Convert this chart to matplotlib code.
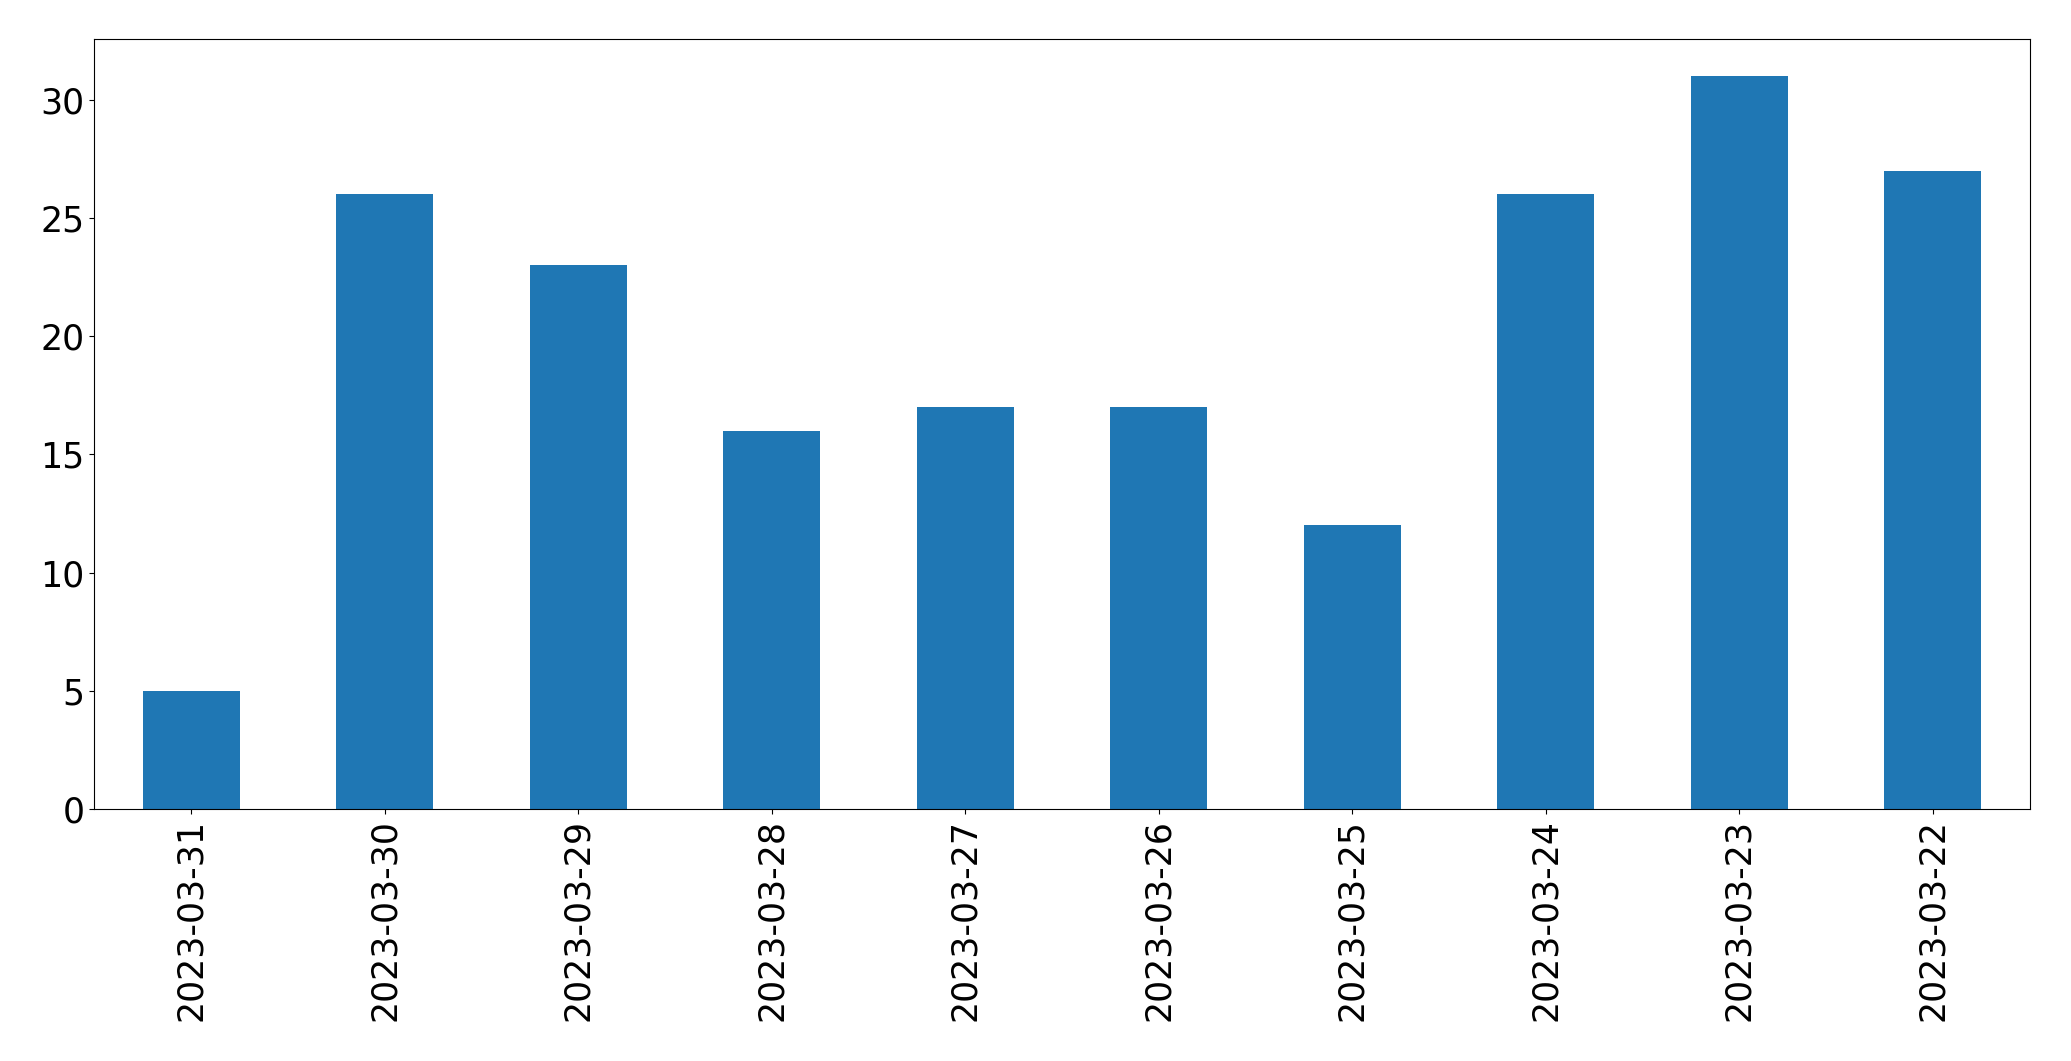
import matplotlib
matplotlib.use('Agg')
import matplotlib.pyplot as plt
import pandas as pd

dates = ["2023-03-31", "2023-03-30", "2023-03-29", "2023-03-28", "2023-03-27",
         "2023-03-26", "2023-03-25", "2023-03-24", "2023-03-23", "2023-03-22"]
counts = [5, 26, 23, 16, 17, 17, 12, 26, 31, 27]

s = pd.Series(counts, index=dates)

fig = plt.figure(figsize=(20.71, 10.61), dpi=100)
ax = fig.add_axes([0.0456, 0.2375, 0.9344, 0.7255])
s.plot(kind='bar', ax=ax, color='#1f77b4', fontsize=25)
ax.tick_params(axis='x', labelrotation=90)

fig.savefig('out.png', dpi=100)
